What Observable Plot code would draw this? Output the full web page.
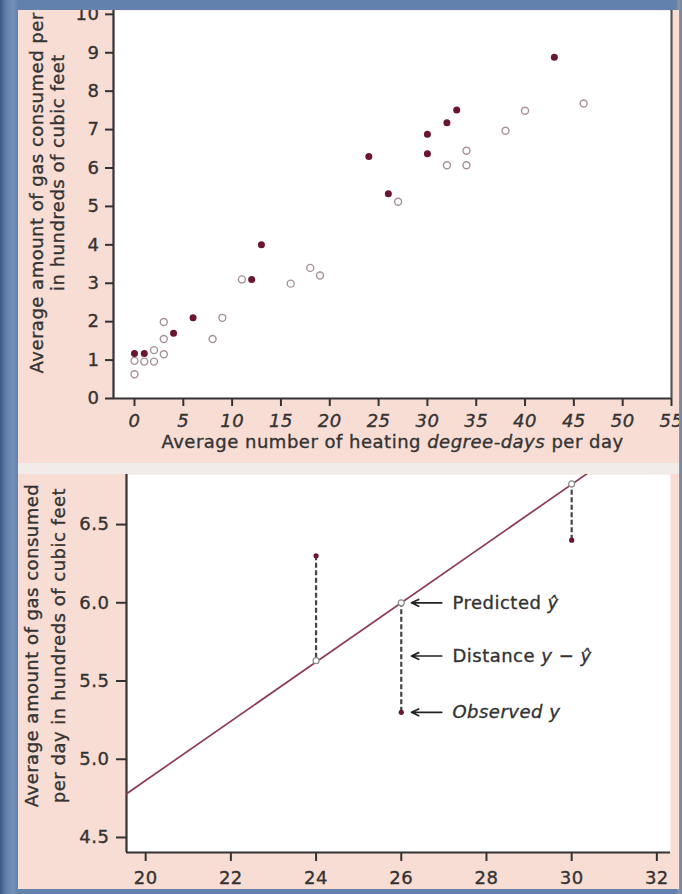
<!DOCTYPE html>
<html><head><meta charset="utf-8">
<script src="https://cdn.jsdelivr.net/npm/d3@7"></script>
<script src="https://cdn.jsdelivr.net/npm/@observablehq/plot@0.6"></script>
<style>
html, body { margin: 0; padding: 0; }
body {
  width: 682px; height: 894px; overflow: hidden; position: relative;
  background: linear-gradient(to right, #3b5884 0px, #5f7ea9 6px, #7390b8 13px, #6282ad 18px, #6282ad 676px, #8e95a6 679px, #6d7f9e 682px);
}
.panel { position: absolute; left: 18px; width: 661px; overflow: hidden; background: #f8ddd4; }
#topPanel { top: 10px; height: 453px; }
#sep { position: absolute; left: 18px; top: 463px; width: 661px; height: 11px; background: #f1ebea; }
#bottomPanel { top: 474px; height: 415px; }
.panel svg { display: block; }
.panel svg text { stroke: #333333; stroke-width: 0.35px; }
.topchart g[aria-label="x-axis tick label"] text { font-style: italic; }
</style>
</head><body>
<div id="topPanel" class="panel"></div>
<div id="sep"></div>
<div id="bottomPanel" class="panel"></div>
<script>
// ---------- data (top panel) ----------
const filledX = [0, 1, 4, 6, 12, 13, 24, 26, 30, 30, 32, 33, 43];
const filledY = [1.17, 1.17, 1.7, 2.1, 3.1, 4.0, 6.3, 5.33, 6.88, 6.37, 7.18, 7.51, 8.88];
const openX = [0, 0, 1, 2, 2, 3, 3, 3, 8, 9, 11, 16, 18, 19, 27, 32, 34, 34, 38, 40, 46];
const openY = [0.63, 0.98, 0.96, 0.96, 1.26, 1.15, 1.55, 1.99, 1.55, 2.1, 3.1, 2.99, 3.4, 3.2, 5.12, 6.07, 6.45, 6.07, 6.97, 7.49, 7.68];
const xTicksTop = [0, 5, 10, 15, 20, 25, 30, 35, 40, 45, 50, 55];
const yTicksTop = [0, 1, 2, 3, 4, 5, 6, 7, 8, 9, 10];
const xDomTop = [-2.15, 55];
const yDomTop = [0, 10.1];
const xLabelTop = "Average number of heating degree-days per day";
const xLabelItalic = "degree-days";
const yLabelTop = ["Average amount of gas consumed per day", "in hundreds of cubic feet"];

// ---------- data (bottom panel) ----------
const residX = [24, 26, 30];
const observedY = [6.3, 5.3, 6.4];
const predictedY = [5.63, 6.0, 6.76];
const lineX = [19.5, 32.5];
const lineY = [4.77, 7.23];
const xTicksBot = [20, 22, 24, 26, 28, 30, 32];
const yTicksBot = [4.5, 5.0, 5.5, 6.0, 6.5];
const xDomBot = [19.55, 32.32];
const yDomBot = [4.404, 6.82];
const yLabelBot = ["Average amount of gas consumed", "per day in hundreds of cubic feet"];
const noteLabels = ["Predicted ŷ", "Distance y − ŷ", "Observed y"];
const noteY = [6.0, 5.66, 5.3];
const noteItalic = [false, false, true];
const noteArrowFrom = [26.95, 26.95, 26.95];
const noteArrowTo = [26.24, 26.24, 26.24];
const noteTextX = [27.2, 27.2, 27.2];

// ---------- styles ----------
const PINK = "#f8ddd4";
const TEXT = "#333333";
const AXIS = "#333333";
const MAROON = "#6a1533";
const OPEN = "#a6909b";
const LINE = "#8e3b58";
const baseStyle = {background: PINK, fontFamily: "DejaVu Sans", fontSize: "18px", color: TEXT, letterSpacing: "0.5px", overflow: "hidden"};

const filled = filledX.map((x, i) => ({x, y: filledY[i]}));
const open = openX.map((x, i) => ({x, y: openY[i]}));

const topChart = Plot.plot({
  width: 661, height: 453,
  marginLeft: 95, marginRight: 8, marginTop: 0, marginBottom: 65,
  className: "topchart",
  style: baseStyle,
  x: {domain: xDomTop, label: null},
  y: {domain: yDomTop, label: null},
  marks: [
    Plot.frame({fill: "white", stroke: null}),
    Plot.axisX({ticks: xTicksTop, tickSize: 8, tickPadding: 8, stroke: AXIS, strokeWidth: 2, label: null}),
    Plot.axisY({ticks: yTicksTop, tickSize: 8, tickPadding: 6, stroke: AXIS, strokeWidth: 2, label: null}),
    Plot.ruleY([yDomTop[0]], {stroke: AXIS, strokeWidth: 2.2}),
    Plot.ruleX([xDomTop[0]], {stroke: AXIS, strokeWidth: 2.2}),
    Plot.ruleX([xDomTop[1]], {stroke: "#555", strokeWidth: 2.2}),
    Plot.dot(open, {x: "x", y: "y", r: 3.5, stroke: OPEN, strokeWidth: 1.4, fill: "white"}),
    Plot.dot(filled, {x: "x", y: "y", r: 3.5, fill: MAROON}),
    Plot.text([xLabelTop], {text: d => d, frameAnchor: "bottom", dy: 49, fill: TEXT}),
    Plot.text([yLabelTop[0]], {text: d => d, frameAnchor: "left", rotate: -90, textAnchor: "middle", dx: -76, dy: -32, fill: TEXT}),
    Plot.text([yLabelTop[1]], {text: d => d, frameAnchor: "left", rotate: -90, textAnchor: "middle", dx: -55, dy: -32, fill: TEXT})
  ]
});
document.getElementById("topPanel").appendChild(topChart);

const resid = residX.map((x, i) => ({x, obs: observedY[i], pred: predictedY[i]}));
const regLine = lineX.map((x, i) => ({x, y: lineY[i]}));
const notes = noteLabels.map((label, i) => ({label, y: noteY[i], x1: noteArrowFrom[i], x2: noteArrowTo[i], tx: noteTextX[i], italic: noteItalic[i]}));

const bottomChart = Plot.plot({
  width: 661, height: 415,
  marginLeft: 108, marginRight: 9, marginTop: 0, marginBottom: 37,
  style: baseStyle,
  x: {domain: xDomBot, label: null},
  y: {domain: yDomBot, label: null},
  marks: [
    Plot.frame({fill: "white", stroke: null}),
    Plot.axisX({ticks: xTicksBot, tickSize: 9, tickPadding: 10, stroke: AXIS, strokeWidth: 2, label: null}),
    Plot.axisY({ticks: yTicksBot, tickSize: 10, tickPadding: 7, tickFormat: d3.format(".1f"), stroke: AXIS, strokeWidth: 2, label: null}),
    Plot.ruleY([yDomBot[0]], {stroke: AXIS, strokeWidth: 2.2}),
    Plot.ruleX([xDomBot[0]], {stroke: AXIS, strokeWidth: 2.2}),
    Plot.line(regLine, {x: "x", y: "y", stroke: LINE, strokeWidth: 1.7, clip: true}),
    Plot.ruleX(resid, {x: "x", y1: "obs", y2: "pred", stroke: "#444", strokeWidth: 2.2, strokeDasharray: "5,2.5"}),
    Plot.dot(resid, {x: "x", y: "pred", r: 3, stroke: "#8a8a8a", strokeWidth: 1.2, fill: "white"}),
    Plot.dot(resid, {x: "x", y: "obs", r: 2.6, fill: MAROON}),
    Plot.arrow(notes, {x1: "x1", x2: "x2", y1: "y", y2: "y", stroke: "#222", strokeWidth: 1.7, headLength: 7, headAngle: 50}),
    Plot.text(notes, {x: "tx", y: "y", text: "label", textAnchor: "start", fill: TEXT}),
    Plot.text([yLabelBot[0]], {text: d => d, frameAnchor: "left", rotate: -90, textAnchor: "middle", dx: -94, dy: -18, fill: TEXT}),
    Plot.text([yLabelBot[1]], {text: d => d, frameAnchor: "left", rotate: -90, textAnchor: "middle", dx: -67, dy: -18, fill: TEXT})
  ]
});
document.getElementById("bottomPanel").appendChild(bottomChart);

// ---------- mixed italic text ----------
function richify(svg, plain, parts) {
  for (const t of svg.querySelectorAll("text")) {
    if (t.textContent === plain && !t.querySelector("tspan")) {
      t.textContent = "";
      for (const [s, it] of parts) {
        const ts = document.createElementNS("http://www.w3.org/2000/svg", "tspan");
        ts.textContent = s;
        if (it) ts.setAttribute("font-style", "italic");
        t.appendChild(ts);
      }
    }
  }
}
const k = xLabelTop.indexOf(xLabelItalic);
richify(topChart, xLabelTop, [[xLabelTop.slice(0, k), false], [xLabelItalic, true], [xLabelTop.slice(k + xLabelItalic.length), false]]);
for (const n of notes) {
  const parts = n.label.split(/(\s+|−)/).filter(s => s.length).map(s => [s, n.italic || s === "y" || s === "ŷ"]);
  richify(bottomChart, n.label, parts);
}
</script>
</body></html>
